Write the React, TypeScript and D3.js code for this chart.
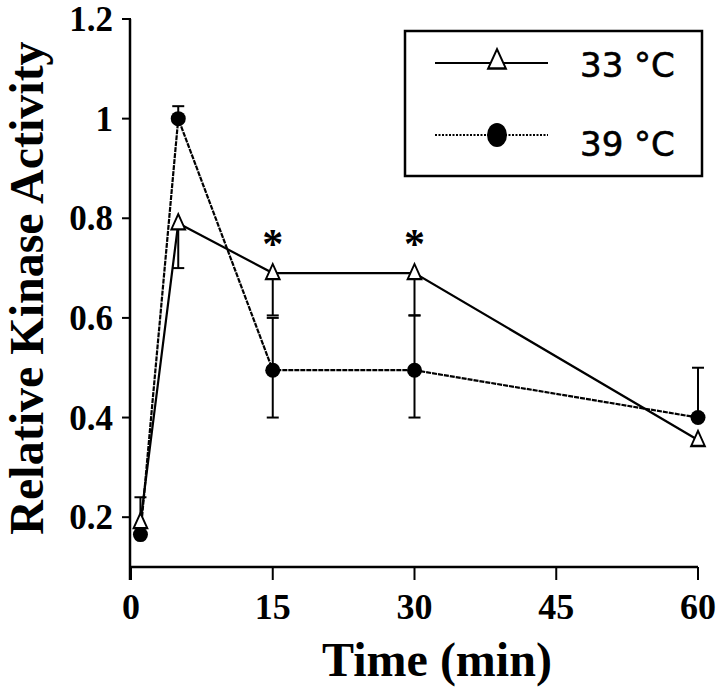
import React from "react";
import * as d3 from "d3";

const times = [1, 5, 15, 30, 60];
const act33 = [0.19, 0.79, 0.69, 0.69, 0.355];
const act39 = [0.165, 1.0, 0.495, 0.495, 0.4];
const err33Up = [0.05, 0, 0, 0, 0];
const err33Down = [0, 0.09, 0.085, 0.085, 0];
const err39Up = [0, 0.025, 0.105, 0.11, 0.1];
const err39Down = [0, 0, 0.095, 0.095, 0];
const xTicks = [0, 15, 30, 45, 60];
const yTicks = [0.2, 0.4, 0.6, 0.8, 1.0, 1.2];
const yTickLabels = ["0.2", "0.4", "0.6", "0.8", "1", "1.2"];
const starTimes = [15, 30];
const seriesNames = ["33 °C", "39 °C"];

const W = 720;
const H = 688;

export default function App() {
  const x = d3.scaleLinear().domain([0, 60]).range([131, 698]);
  const y = d3.scaleLinear().domain([0.1, 1.2]).range([567, 19]);
  const line = d3
    .line<number>()
    .x((_, i) => x(times[i]))
    .y((d) => y(d));
  const tri = d3.symbol().type(d3.symbolTriangle).size(100)();
  const triL = d3.symbol().type(d3.symbolTriangle).size(150)();
  const serif = "'Liberation Serif', 'Times New Roman', serif";
  const sans = "'DejaVu Sans', Verdana, sans-serif";
  const cap = 6;

  const errBars = (vals: number[], up: number[], down: number[], key: string) =>
    times.map((t, i) => {
      const els: React.ReactNode[] = [];
      const cx = x(t);
      if (up[i] > 0) {
        const yy = y(vals[i] + up[i]);
        els.push(<line key={key + "u" + i} x1={cx} x2={cx} y1={y(vals[i])} y2={yy} stroke="#000" strokeWidth={2} />);
        els.push(<line key={key + "uc" + i} x1={cx - cap} x2={cx + cap} y1={yy} y2={yy} stroke="#000" strokeWidth={2} />);
      }
      if (down[i] > 0) {
        const yy = y(vals[i] - down[i]);
        els.push(<line key={key + "d" + i} x1={cx} x2={cx} y1={y(vals[i])} y2={yy} stroke="#000" strokeWidth={2} />);
        els.push(<line key={key + "dc" + i} x1={cx - cap} x2={cx + cap} y1={yy} y2={yy} stroke="#000" strokeWidth={2} />);
      }
      return els;
    });

  return (
    <svg
      width={W}
      height={H}
      style={{ position: "absolute", left: 0, top: 0, background: "#fff" }}
    >
      <rect x={0} y={0} width={W} height={H} fill="#fff" />
      {/* axes */}
      <line x1={x(0) - 1} x2={x(0) - 1} y1={y(1.2)} y2={y(0.1) + 13} stroke="#000" strokeWidth={2.5} />
      <line x1={x(0) - 1} x2={x(60)} y1={y(0.1)} y2={y(0.1)} stroke="#000" strokeWidth={2.5} />
      {yTicks.map((v, i) => (
        <g key={"yt" + i}>
          <line x1={x(0) - 9} x2={x(0)} y1={y(v)} y2={y(v)} stroke="#000" strokeWidth={2} />
          <text
            x={113}
            y={y(v) + 12}
            textAnchor="end"
            fontFamily={serif}
            fontWeight="bold"
            fontSize={35}
          >
            {yTickLabels[i]}
          </text>
        </g>
      ))}
      {xTicks.map((v, i) => (
        <g key={"xt" + i}>
          <line x1={x(v)} x2={x(v)} y1={y(0.1)} y2={y(0.1) + 13} stroke="#000" strokeWidth={2} />
          <text x={x(v)} y={619} textAnchor="middle" fontFamily={serif} fontWeight="bold" fontSize={36}>
            {v}
          </text>
        </g>
      ))}
      <text x={437} y={676} textAnchor="middle" fontFamily={serif} fontWeight="bold" fontSize={48}>
        Time (min)
      </text>
      <text
        transform={`translate(43,288) rotate(-90)`}
        textAnchor="middle"
        fontFamily={serif}
        fontWeight="bold"
        fontSize={48}
      >
        Relative Kinase Activity
      </text>

      {/* error bars */}
      {errBars(act33, err33Up, err33Down, "a")}
      {errBars(act39, err39Up, err39Down, "b")}

      {/* lines */}
      <path d={line(act33) || ""} fill="none" stroke="#000" strokeWidth={2.2} />
      <path d={line(act39) || ""} fill="none" stroke="#000" strokeWidth={2.2} strokeDasharray="5,1" />

      {/* markers */}
      {act39.map((v, i) => (
        <circle key={"c" + i} cx={x(times[i])} cy={y(v)} r={7.5} fill="#000" />
      ))}
      {act33.map((v, i) => (
        <path
          key={"t" + i}
          d={tri || ""}
          transform={`translate(${x(times[i])},${y(v) + 1}) scale(0.9,1.15)`}
          fill="#fff"
          stroke="#000"
          strokeWidth={2}
        />
      ))}

      {/* significance */}
      {starTimes.map((t, i) => (
        <text key={"s" + i} x={x(t)} y={258} textAnchor="middle" fontFamily={serif} fontWeight="bold" fontSize={42}>
          *
        </text>
      ))}

      {/* legend */}
      <rect x={405} y={31} width={297} height={145} fill="#fff" stroke="#000" strokeWidth={2.5} />
      <line x1={435} x2={548} y1={63} y2={63} stroke="#000" strokeWidth={2} />
      <path d={triL || ""} transform={`translate(497,62) scale(0.95,1.2)`} fill="#fff" stroke="#000" strokeWidth={2} />
      <text x={580} y={77} fontFamily={sans} fontSize={34} stroke="#000" strokeWidth={0.6}>
        {seriesNames[0]}
      </text>
      <line x1={435} x2={548} y1={135} y2={135} stroke="#000" strokeWidth={2} strokeDasharray="2,1.5" />
      <ellipse cx={497} cy={135} rx={10} ry={12} fill="#000" />
      <text x={580} y={156} fontFamily={sans} fontSize={34} stroke="#000" strokeWidth={0.6}>
        {seriesNames[1]}
      </text>
    </svg>
  );
}
